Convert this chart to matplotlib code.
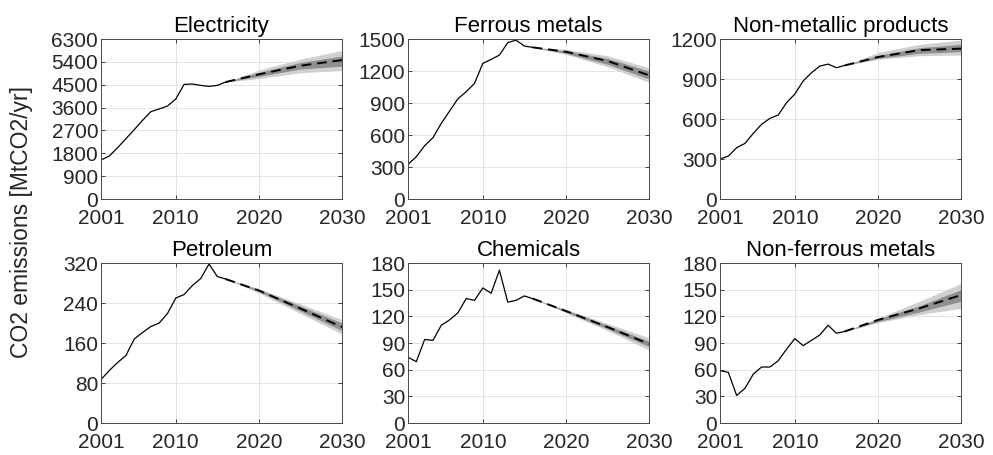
import numpy as np
import matplotlib
matplotlib.use('Agg')
import matplotlib.pyplot as plt

plt.rcParams['font.family'] = ['Liberation Sans', 'DejaVu Sans']

# historical data 2001-2016
hist_years = [2001, 2002, 2003, 2004, 2005, 2006, 2007, 2008,
              2009, 2010, 2011, 2012, 2013, 2014, 2015, 2016]
# projection anchor years
proj_years = [2016, 2020, 2025, 2030]

titles = ['Electricity', 'Ferrous metals', 'Non-metallic products',
          'Petroleum', 'Chemicals', 'Non-ferrous metals']

elec_hist = [1536, 1693, 2021, 2375, 2730, 3097, 3440, 3545, 3662, 3937, 4515, 4528, 4475, 4436, 4475, 4607]
elec_proj = [4607, 4910, 5250, 5470]
elec_dark_lo = [4607, 4830, 5120, 5230]
elec_dark_hi = [4607, 4990, 5380, 5630]
elec_light_lo = [4607, 4740, 4975, 5060]
elec_light_hi = [4607, 5080, 5510, 5850]

ferr_hist = [325, 397, 500, 575, 709, 825, 940, 1006, 1084, 1272, 1309, 1350, 1466, 1490, 1434, 1422]
ferr_proj = [1422, 1381, 1294, 1160]
ferr_dark_lo = [1422, 1366, 1263, 1125]
ferr_dark_hi = [1422, 1390, 1319, 1200]
ferr_light_lo = [1422, 1356, 1240, 1094]
ferr_light_hi = [1422, 1403, 1344, 1231]

nmet_hist = [300, 322, 385, 417, 492, 560, 605, 630, 722, 787, 885, 947, 997, 1012, 985, 1002]
nmet_proj = [1002, 1065, 1117, 1128]
nmet_dark_lo = [1002, 1055, 1093, 1105]
nmet_dark_hi = [1002, 1078, 1135, 1160]
nmet_light_lo = [1002, 1048, 1075, 1080]
nmet_light_hi = [1002, 1100, 1160, 1192]

petr_hist = [87, 105, 121, 135, 168, 181, 193, 200, 219, 250, 257, 275, 289, 318, 293, 288]
petr_proj = [288, 265, 229, 192]
petr_dark_lo = [288, 263, 224, 185]
petr_dark_hi = [288, 267, 234, 200]
petr_light_lo = [288, 260, 219, 178]
petr_light_hi = [288, 269, 238, 207]

chem_hist = [74, 69, 94, 93, 110, 116, 124, 140, 138, 152, 146, 172, 136, 138, 143, 140]
chem_proj = [140, 126, 108, 89]
chem_dark_lo = [140, 125, 106, 86]
chem_dark_hi = [140, 127, 110, 92]
chem_light_lo = [140, 124, 104, 82]
chem_light_hi = [140, 128, 112, 96]

nfer_hist = [59, 57, 31, 39, 55, 63, 63, 70, 83, 95, 87, 93, 99, 110, 101, 103]
nfer_proj = [103, 116, 129, 144]
nfer_dark_lo = [103, 114, 125, 137]
nfer_dark_hi = [103, 117, 132, 150]
nfer_light_lo = [103, 113, 122, 129]
nfer_light_hi = [103, 118, 137, 157]

hists = [elec_hist, ferr_hist, nmet_hist, petr_hist, chem_hist, nfer_hist]
projs = [elec_proj, ferr_proj, nmet_proj, petr_proj, chem_proj, nfer_proj]
dark_lo = [elec_dark_lo, ferr_dark_lo, nmet_dark_lo, petr_dark_lo, chem_dark_lo, nfer_dark_lo]
dark_hi = [elec_dark_hi, ferr_dark_hi, nmet_dark_hi, petr_dark_hi, chem_dark_hi, nfer_dark_hi]
light_lo = [elec_light_lo, ferr_light_lo, nmet_light_lo, petr_light_lo, chem_light_lo, nfer_light_lo]
light_hi = [elec_light_hi, ferr_light_hi, nmet_light_hi, petr_light_hi, chem_light_hi, nfer_light_hi]

ytop = [6300, 1500, 1200, 320, 180, 180]
ystep = [900, 300, 300, 80, 30, 30]

fig = plt.figure(figsize=(9.93, 4.55), dpi=100)

lefts = [0.1017, 0.4109, 0.7251]
bottoms = [0.5626, 0.0703]
w, h = 0.2427, 0.3516

txt = '#262626'
for i in range(6):
    ax = fig.add_axes([lefts[i % 3], bottoms[i // 3], w, h])
    ax.fill_between(proj_years, light_lo[i], light_hi[i], color='#d0d0d0', lw=0)
    ax.fill_between(proj_years, dark_lo[i], dark_hi[i], color='#8f8f8f', lw=0)
    ax.plot(hist_years, hists[i], color='black', lw=0.9)
    ax.plot(proj_years, projs[i], color='black', lw=1.4, dashes=(5, 3))
    ax.set_xlim(2001, 2030)
    ax.set_ylim(0, ytop[i])
    ax.set_xticks([2001, 2010, 2020, 2030])
    ax.set_yticks(np.arange(0, ytop[i] + 1, ystep[i]))
    ax.grid(True, color='#e3e3e3', lw=0.7)
    ax.set_axisbelow(True)
    ax.tick_params(direction='in', length=3, width=0.6, top=True, right=True,
                   labelsize=15, colors=txt, pad=2)
    ax.tick_params(axis='x', pad=7)
    for s in ax.spines.values():
        s.set_color('#4a4a4a')
        s.set_linewidth(0.7)
    ax.set_title(titles[i], fontsize=16, color='black', pad=5)

fig.text(0.022, 0.513, 'CO2 emissions [MtCO2/yr]', rotation=90, va='center', ha='center',
         fontsize=16.5, color=txt)

plt.savefig('out.png', dpi=100, facecolor='white')
